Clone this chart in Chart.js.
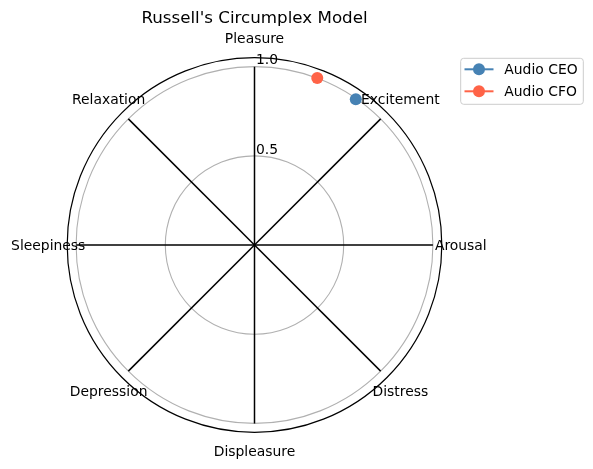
<!DOCTYPE html>
<html>
<head>
<meta charset="utf-8">
<script src="https://cdn.jsdelivr.net/npm/chart.js@4"></script>
<style>
  html, body { margin: 0; padding: 0; background: #ffffff; }
  #wrap { position: relative; width: 593px; height: 469px; }
</style>
</head>
<body>
<div id="wrap"><canvas id="c"></canvas></div>
<script>
// ---- Data ----
const categories = ['Pleasure', 'Excitement', 'Arousal', 'Distress', 'Displeasure', 'Depression', 'Sleepiness', 'Relaxation'];
const categoryAngles = [0, 45, 90, 135, 180, 225, 270, 315]; // degrees, clockwise from top
const seriesNames = ['Audio CEO', 'Audio CFO'];
const seriesColors = ['#4682B4', '#FF6347'];
const ceoTheta = [34.8];
const ceoR = [0.995];
const cfoTheta = [20.6];
const cfoR = [1.0];
const radialTicks = [0.5, 1.0];
const radialTickLabels = ['0.5', '1.0'];
const rMax = 1.05;
const titleText = "Russell's Circumplex Model";

// polar (degrees clockwise from north, radius) -> cartesian data values
function toXY(thetaDeg, r) {
  const t = thetaDeg * Math.PI / 180;
  return { x: r * Math.sin(t), y: r * Math.cos(t) };
}

const FONT = '"DejaVu Sans", sans-serif';

const spokeDatasets = categories.map((c, i) => ({
  label: 'axis ' + c,
  data: [toXY(categoryAngles[i], 0), toXY(categoryAngles[i], 1.0)],
  showLine: true,
  borderColor: '#000000',
  borderWidth: 1.5,
  pointRadius: 0,
  pointHoverRadius: 0,
  order: 2
}));

const seriesDatasets = [
  { label: seriesNames[0], data: ceoTheta.map((t, i) => toXY(t, ceoR[i])) },
  { label: seriesNames[1], data: cfoTheta.map((t, i) => toXY(t, cfoR[i])) }
].map((d, i) => Object.assign(d, {
  showLine: true,
  borderColor: seriesColors[i],
  backgroundColor: seriesColors[i],
  borderWidth: 2,
  pointRadius: 6,
  pointBorderWidth: 0,
  pointHoverRadius: 6,
  order: 1
}));

const polarGrid = {
  id: 'polarGrid',
  beforeDatasetsDraw(chart) {
    const ctx = chart.ctx;
    const xs = chart.scales.x, ys = chart.scales.y;
    const cx = xs.getPixelForValue(0), cy = ys.getPixelForValue(0);
    const pr = v => xs.getPixelForValue(v) - cx;
    ctx.save();
    // grid circles
    ctx.strokeStyle = '#b0b0b0';
    ctx.lineWidth = 1.1;
    radialTicks.forEach(v => {
      ctx.beginPath();
      ctx.arc(cx, cy, pr(v), 0, Math.PI * 2);
      ctx.stroke();
    });
    // outer spine
    ctx.strokeStyle = '#000000';
    ctx.lineWidth = 1.2;
    ctx.beginPath();
    ctx.arc(cx, cy, pr(rMax), 0, Math.PI * 2);
    ctx.stroke();
    ctx.restore();
  },
  afterDraw(chart) {
    const ctx = chart.ctx;
    const xs = chart.scales.x, ys = chart.scales.y;
    const cx = xs.getPixelForValue(0), cy = ys.getPixelForValue(0);
    const outer = xs.getPixelForValue(rMax) - cx;
    ctx.save();
    ctx.fillStyle = '#000000';
    ctx.font = '13.9px ' + FONT;
    // category labels
    ctx.textAlign = 'center';
    ctx.textBaseline = 'middle';
    categories.forEach((c, i) => {
      const t = categoryAngles[i] * Math.PI / 180;
      const rl = outer + 19;
      ctx.fillText(c, cx + rl * Math.sin(t), cy - rl * Math.cos(t) + 1);
    });
    // radial tick labels
    ctx.textAlign = 'left';
    ctx.textBaseline = 'alphabetic';
    radialTicks.forEach((v, i) => {
      const y = ys.getPixelForValue(v);
      ctx.fillText(radialTickLabels[i], cx + 1.5, y - 2.2);
    });
    // legend (matplotlib style)
    const bx = 460.7, by = 58.3, bw = 122.6, bh = 46;
    ctx.beginPath();
    if (ctx.roundRect) ctx.roundRect(bx, by, bw, bh, 3); else ctx.rect(bx, by, bw, bh);
    ctx.fillStyle = 'rgba(255,255,255,0.8)';
    ctx.fill();
    ctx.strokeStyle = '#cccccc';
    ctx.lineWidth = 1;
    ctx.stroke();
    seriesNames.forEach((n, i) => {
      const y = by + 11 + i * 22;
      ctx.strokeStyle = seriesColors[i];
      ctx.lineWidth = 2;
      ctx.beginPath();
      ctx.moveTo(464.5, y);
      ctx.lineTo(493.5, y);
      ctx.stroke();
      ctx.fillStyle = seriesColors[i];
      ctx.beginPath();
      ctx.arc(479, y, 6, 0, Math.PI * 2);
      ctx.fill();
      ctx.fillStyle = '#000000';
      ctx.textAlign = 'left';
      ctx.textBaseline = 'middle';
      ctx.fillText(n, 504.3, y + 1);
    });
    ctx.restore();
  }
};

new Chart(document.getElementById('c'), {
  type: 'scatter',
  data: { datasets: spokeDatasets.concat(seriesDatasets) },
  options: {
    responsive: true,
    maintainAspectRatio: false,
    animation: false,
    devicePixelRatio: 1,
    layout: { padding: { left: 67.2, right: 151.2, top: 0, bottom: 36.7 } },
    scales: {
      x: { type: 'linear', min: -rMax, max: rMax, display: false },
      y: { type: 'linear', min: -rMax, max: rMax, display: false }
    },
    plugins: {
      legend: { display: false },
      tooltip: { enabled: false },
      title: {
        display: true,
        text: titleText,
        color: '#000000',
        font: { family: FONT, size: 16.7, weight: 'normal', lineHeight: 1.2 },
        padding: { top: 9, bottom: 28.7 }
      }
    }
  },
  plugins: [polarGrid]
});
</script>
</body>
</html>
